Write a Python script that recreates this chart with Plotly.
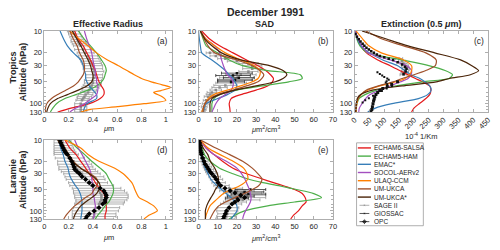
import numpy as np
import plotly.graph_objects as go

# ---------------- data ----------------
P = [10, 13, 16, 20, 25, 30, 35, 40, 45, 50, 57, 65, 75, 85, 100, 115, 130]
MODELS = ["ECHAM6-SALSA", "ECHAM5-HAM", "EMAC*", "SOCOL-AERv2", "ULAQ-CCM", "UM-UKCA", "UM-UKCA*"]
COLORS = ["#e41a1c", "#4daf4a", "#377eb8", "#a34fbf", "#ff7f00", "#a0522d", "#4a2408"]
P_TICKS = [10, 20, 30, 50, 100, 130]

# (a) effective radius, tropics [um]
A_ECHAM6 = [0.25, 0.28, 0.32, 0.35, 0.38, 0.40, 0.42, 0.43, 0.44, 0.45, 0.47, 0.49, 0.49, 0.46, 0.37, 0.22, 0.11]
A_ECHAM5 = [0.28, 0.33, 0.38, 0.43, 0.47, 0.50, 0.51, 0.50, 0.49, 0.47, 0.43, 0.36, 0.26, 0.17, 0.10, 0.07, 0.05]
A_EMAC = [0.13, 0.16, 0.19, 0.24, 0.30, 0.32, 0.33, 0.34, 0.34, 0.35, 0.37, 0.40, 0.43, 0.43, 0.35, 0.33, 0.32]
A_SOCOL = [0.33, 0.35, 0.37, 0.39, 0.40, 0.41, 0.42, 0.42, 0.43, 0.43, 0.44, 0.44, 0.43, 0.39, 0.33, 0.26, 0.21]
A_ULAQ_P = [10, 13, 16, 20, 25, 30, 35, 40, 45, 50, 55, 60, 66, 70, 80, 90, 100, 110, 120, 130]
A_ULAQ = [0.21, 0.29, 0.36, 0.43, 0.52, 0.61, 0.68, 0.74, 0.80, 0.88, 0.97, 1.04, 0.96, 0.90, 0.97, 1.00, 0.82, 0.60, 0.38, 0.30]
A_UKCA = [0.21, 0.24, 0.27, 0.29, 0.32, 0.33, 0.33, 0.32, 0.30, 0.28, 0.24, 0.18, 0.11, 0.06, 0.02, 0.01, 0.01]
A_UKCA2 = [0.23, 0.27, 0.30, 0.33, 0.36, 0.38, 0.39, 0.40, 0.40, 0.39, 0.35, 0.28, 0.19, 0.11, 0.05, 0.03, 0.02]
A_SAGE_P = [10, 11, 12, 13, 14, 15, 16, 18, 20, 22, 24, 26, 28, 30, 33, 36, 40, 44, 48, 52, 56, 60, 65, 70, 75, 80, 85, 90, 100, 110, 120, 130]
A_SAGE = [0.24, 0.25, 0.26, 0.27, 0.28, 0.29, 0.30, 0.32, 0.34, 0.36, 0.37, 0.38, 0.39, 0.40, 0.40, 0.41, 0.41, 0.41, 0.40, 0.40, 0.39, 0.38, 0.37, 0.36, 0.34, 0.33, 0.32, 0.31, 0.30, 0.30, 0.30, 0.30]
A_SAGE_ERR = [0.05, 0.05, 0.05, 0.05, 0.06, 0.06, 0.06, 0.07, 0.07, 0.08, 0.08, 0.08, 0.08, 0.08, 0.08, 0.08, 0.07, 0.07, 0.07, 0.07, 0.07, 0.07, 0.06, 0.06, 0.06, 0.06, 0.05, 0.05, 0.05, 0.05, 0.05, 0.05]

# (b) SAD, tropics [um2/cm3]
B_ECHAM6 = [1.7, 6, 11, 18, 25, 31, 35, 37.5, 39, 38.5, 36, 30, 22, 17, 16, 16.3, 16.5]
B_ECHAM5 = [1, 2.5, 4, 10, 16, 23, 36, 53, 54, 47, 33, 20, 11, 8, 7, 7, 7]
B_EMAC = [0, 0.5, 1, 1.7, 7, 11, 14, 16, 18, 19, 20, 19, 15, 10, 4, 3, 2.5]
B_SOCOL = [1, 4, 8.5, 11, 12, 13, 14, 15, 17, 18, 18, 17, 14, 11, 9, 8, 7]
B_ULAQ = [1, 4, 8.5, 14, 22, 29, 32, 32, 31, 28, 22, 15, 8, 5, 3.4, 2.5, 1.7]
B_UKCA = [1, 3, 5, 8.5, 20, 28, 32, 34, 33, 31, 25, 18, 10, 6, 3.4, 2.5, 2.5]
B_UKCA2 = [1, 3.5, 7, 12, 22, 37, 44, 46, 44, 40, 30, 19, 11, 7, 6, 6, 6]
B_SAGE_P = [20, 22, 24, 26, 28, 30, 33, 36, 40, 44, 48, 52, 56, 60, 65, 70, 75, 80, 90, 100, 110, 120, 130]
B_SAGE = [6, 9, 14, 20, 26, 28, 28, 26, 22, 20, 19, 17, 14, 11, 9, 7, 6, 5, 4, 3.5, 3, 3, 2.5]
B_SAGE_ERR = [2, 3, 4, 5, 5, 5, 5, 5, 8, 9, 9, 8, 6, 4, 3, 2.5, 2, 2, 1.5, 1.5, 1.5, 1, 1]
B_GIO_P = [38, 41, 44, 47, 50]
B_GIO = [20, 18, 21, 19, 17]
B_GIO_ERR = [8, 9, 8, 9, 7]

# (c) extinction 0.5 um, tropics [1e-4 1/km]
C_ECHAM6 = [3, 10, 20, 40, 78, 120, 152, 180, 205, 228, 253, 257, 253, 240, 218, 200, 192]
C_ECHAM5 = [3, 8, 18, 45, 160, 250, 305, 330, 318, 230, 140, 75, 35, 15, 8, 5, 4]
C_EMAC = [3, 10, 22, 50, 95, 145, 170, 190, 220, 237, 253, 258, 246, 215, 126, 70, 44]
C_SOCOL = [3, 12, 25, 45, 120, 175, 192, 190, 180, 155, 120, 85, 52, 37, 25, 16, 14]
C_ULAQ = [5, 28, 48, 90, 165, 192, 192, 185, 170, 140, 85, 45, 22, 12, 8, 6, 5]
C_UKCA = [38, 95, 165, 240, 275, 272, 240, 200, 160, 130, 80, 40, 22, 12, 5, 4, 3]
C_UKCA2 = [25, 110, 180, 270, 357, 395, 418, 390, 320, 275, 160, 60, 20, 9, 6, 5, 4]
C_SAGE_P = [24, 26, 28, 30, 32, 34, 36, 38, 40]
C_SAGE = [150, 160, 165, 170, 172, 172, 170, 168, 165]
C_SAGE_ERR = [12, 12, 12, 12, 12, 12, 12, 12, 12]
C_GIO_P = [11, 12, 13, 14, 15, 16, 17, 18, 19, 20, 21, 22, 23, 24, 25, 27, 29, 31, 33, 36, 39]
C_GIO = [3, 8, 14, 20, 27, 33, 40, 48, 56, 65, 75, 85, 100, 115, 130, 145, 160, 170, 175, 172, 165]
C_GIO_MID_P = [37, 39, 41, 43, 45, 47, 49, 51, 54]
C_GIO_MID = [77, 85, 93, 100, 110, 115, 108, 105, 110]
C_GIO_LOW_P = [50, 54, 58, 62, 66, 70, 75, 80, 86, 92, 100, 110, 120, 130]
C_GIO_LOW = [145, 125, 110, 95, 85, 78, 72, 68, 66, 64, 62, 60, 58, 55]
C_GIO_LOW2_P = [57, 62, 67, 72, 78, 84, 90, 96]
C_GIO_LOW2 = [126, 108, 92, 77, 62, 48, 36, 27]

# (d) effective radius, Laramie [um]
D_ECHAM6 = [0.17, 0.21, 0.26, 0.30, 0.34, 0.37, 0.40, 0.42, 0.44, 0.46, 0.49, 0.50, 0.51, 0.51, 0.51, 0.50, 0.50]
D_ECHAM5 = [0.20, 0.27, 0.33, 0.39, 0.46, 0.51, 0.53, 0.55, 0.565, 0.57, 0.565, 0.55, 0.53, 0.50, 0.47, 0.44, 0.42]
D_EMAC = [0.12, 0.135, 0.155, 0.17, 0.195, 0.205, 0.22, 0.24, 0.26, 0.28, 0.295, 0.305, 0.31, 0.31, 0.31, 0.305, 0.30]
D_SOCOL = [0.25, 0.28, 0.31, 0.34, 0.37, 0.385, 0.39, 0.395, 0.40, 0.40, 0.40, 0.41, 0.415, 0.42, 0.415, 0.41, 0.40]
D_ULAQ = [0.17, 0.30, 0.36, 0.45, 0.58, 0.65, 0.69, 0.72, 0.735, 0.745, 0.76, 0.78, 0.85, 0.90, 0.93, 0.86, 0.82]
D_UKCA = [0.13, 0.17, 0.20, 0.24, 0.30, 0.38, 0.43, 0.44, 0.43, 0.41, 0.39, 0.34, 0.29, 0.25, 0.21, 0.18, 0.16]
D_UKCA2 = [0.11, 0.15, 0.19, 0.23, 0.30, 0.37, 0.42, 0.45, 0.46, 0.45, 0.43, 0.39, 0.34, 0.30, 0.27, 0.25, 0.24]
OBS_P = [10, 11, 12, 13, 14, 15, 16, 18, 20, 22, 24, 26, 28, 30, 33, 36, 40, 44, 48, 52, 56, 60, 65, 70, 75, 80, 90, 100, 110, 120, 130]
D_OPC = [0.13, 0.135, 0.145, 0.155, 0.165, 0.175, 0.19, 0.21, 0.225, 0.235, 0.245, 0.25, 0.27, 0.29, 0.31, 0.34, 0.37, 0.40, 0.46, 0.49, 0.50, 0.51, 0.51, 0.50, 0.50, 0.48, 0.45, 0.41, 0.37, 0.35, 0.34]
D_SAGE = [0.15, 0.15, 0.155, 0.16, 0.165, 0.17, 0.18, 0.21, 0.24, 0.25, 0.26, 0.27, 0.29, 0.31, 0.33, 0.34, 0.36, 0.39, 0.43, 0.45, 0.46, 0.47, 0.47, 0.47, 0.46, 0.45, 0.43, 0.42, 0.41, 0.41, 0.40]
D_SAGE_ERR = [0.07, 0.07, 0.075, 0.08, 0.085, 0.09, 0.10, 0.12, 0.13, 0.14, 0.14, 0.15, 0.15, 0.15, 0.16, 0.16, 0.16, 0.18, 0.20, 0.21, 0.22, 0.22, 0.22, 0.21, 0.20, 0.20, 0.19, 0.19, 0.18, 0.18, 0.17]

# (e) SAD, Laramie [um2/cm3]
E_ECHAM6 = [1, 4, 8, 12.5, 18, 25, 32.5, 39, 45, 50, 54, 55.5, 56, 54, 52, 49.5, 48]
E_ECHAM5 = [1, 2, 3, 6, 11, 18, 25, 33.5, 43, 51, 60, 64, 50, 36, 24, 19, 16]
E_EMAC = [0, 0.5, 1.2, 2.2, 3.5, 5, 6.2, 8, 10, 12, 14.5, 17, 19, 20, 20, 18.5, 17]
E_SOCOL = [1, 4, 8, 14.5, 20, 22.5, 24, 25, 25.8, 26.5, 27, 27.4, 27, 26, 24.5, 23.5, 23]
E_ULAQ = [1, 5, 11, 18, 23.5, 25.3, 25.7, 24, 21, 17, 13, 10.5, 8, 6, 4.8, 4, 3.6]
E_UKCA = [1, 9, 16, 23, 28, 31, 33, 32.5, 31, 28, 24, 19, 14, 10.5, 8.3, 7, 6]
E_UKCA2 = [0.8, 2.5, 4.8, 6.2, 8.5, 9.8, 10.4, 10.4, 10, 8.8, 7.8, 6.5, 5.2, 4.3, 3.6, 3.6, 3.6]
E_OPC = [0.3, 0.5, 0.7, 0.9, 1.0, 1.3, 1.6, 2.2, 2.9, 3.5, 4.5, 5.3, 6.0, 7.0, 8.3, 9.3, 10.2, 11.5, 13.8, 16.5, 19, 22, 24, 20.6, 19, 17.5, 16, 14.6, 14, 13.3, 13]
E_SAGE = [0.5, 0.7, 0.9, 1.1, 1.3, 1.6, 1.9, 2.5, 3.2, 3.9, 4.7, 5.5, 6.3, 7.2, 8.4, 9.4, 10.5, 12, 16, 20, 23, 25, 25, 23, 19, 17, 15.5, 15, 15, 14.5, 14]
E_SAGE_ERR = [0.5, 0.6, 0.7, 0.8, 0.9, 1, 1.2, 1.5, 1.8, 2, 2.2, 2.4, 2.6, 2.8, 3, 3.2, 3.5, 4, 7, 9, 10, 10, 10, 9, 6, 5.5, 5.5, 5.5, 5, 5, 5]
E_GIO_P = [50, 54, 58, 62, 66]
E_GIO = [27, 24, 26, 22, 20]
E_GIO_ERR = [8, 10, 9, 7, 6]

# ---------------- figure ----------------
W, H = 500, 250
def fx(px):
    return px / W
def fy(py):
    return 1 - py / H

FONT = "Arial"
TXT = "#262626"
AXC = "#9a9a9a"
SAGE_C = "#8c8c8c"

fig = go.Figure()

panels = {
    "a": dict(ax="", dom_x=(40, 170), dom_y=(28, 112)),
    "b": dict(ax="2", dom_x=(197, 334), dom_y=(28, 112)),
    "c": dict(ax="3", dom_x=(356, 492), dom_y=(28, 112)),
    "d": dict(ax="4", dom_x=(40, 170), dom_y=(141, 223)),
    "e": dict(ax="5", dom_x=(197, 334), dom_y=(141, 223)),
}

model_data = {
    "a": [A_ECHAM6, A_ECHAM5, A_EMAC, A_SOCOL, A_ULAQ, A_UKCA, A_UKCA2],
    "b": [B_ECHAM6, B_ECHAM5, B_EMAC, B_SOCOL, B_ULAQ, B_UKCA, B_UKCA2],
    "c": [C_ECHAM6, C_ECHAM5, C_EMAC, C_SOCOL, C_ULAQ, C_UKCA, C_UKCA2],
    "d": [D_ECHAM6, D_ECHAM5, D_EMAC, D_SOCOL, D_ULAQ, D_UKCA, D_UKCA2],
    "e": [E_ECHAM6, E_ECHAM5, E_EMAC, E_SOCOL, E_ULAQ, E_UKCA, E_UKCA2],
}

def refs(k):
    a = panels[k]["ax"]
    return "x" + a, "y" + a

def add_sage(k, xs, ps, err):
    xr, yr = refs(k)
    fig.add_trace(go.Scatter(x=xs, y=ps, mode="markers", xaxis=xr, yaxis=yr, showlegend=False,
                             marker=dict(symbol="square", size=2.5, color=SAGE_C),
                             error_x=dict(type="data", array=err, color=SAGE_C, thickness=0.7, width=1.5)))

def add_gio(k, xs, ps, err=None, size=2.5):
    xr, yr = refs(k)
    ex = dict(type="data", array=err, color="#111", thickness=0.7, width=1.5) if err is not None else None
    fig.add_trace(go.Scatter(x=xs, y=ps, mode="markers", xaxis=xr, yaxis=yr, showlegend=False,
                             marker=dict(symbol="square", size=size, color="#111"), error_x=ex))

def add_opc(k, xs, ps):
    xr, yr = refs(k)
    fig.add_trace(go.Scatter(x=xs, y=ps, mode="markers", xaxis=xr, yaxis=yr, showlegend=False,
                             marker=dict(symbol="diamond", size=4, color="#000")))

# observations under model lines
add_sage("a", A_SAGE, A_SAGE_P, A_SAGE_ERR)
add_sage("b", B_SAGE, B_SAGE_P, B_SAGE_ERR)
add_gio("b", B_GIO, B_GIO_P, B_GIO_ERR)
add_sage("c", C_SAGE, C_SAGE_P, C_SAGE_ERR)
add_sage("d", D_SAGE, OBS_P, D_SAGE_ERR)
add_sage("e", E_SAGE, OBS_P, E_SAGE_ERR)
add_gio("e", E_GIO, E_GIO_P, E_GIO_ERR)

for k, series in model_data.items():
    xr, yr = refs(k)
    for name, col, vals in zip(MODELS, COLORS, series):
        pp = A_ULAQ_P if (k == "a" and name == "ULAQ-CCM") else P
        fig.add_trace(go.Scatter(x=vals, y=pp, mode="lines", name=name, xaxis=xr, yaxis=yr, showlegend=False,
                                 line=dict(color=col, width=1.2, shape="spline", smoothing=0.7)))

add_gio("c", C_GIO, C_GIO_P)
add_gio("c", C_GIO_MID, C_GIO_MID_P, size=2)
add_gio("c", C_GIO_LOW, C_GIO_LOW_P, size=3)
add_gio("c", C_GIO_LOW2, C_GIO_LOW2_P, size=2)
add_opc("d", D_OPC, OBS_P)
add_opc("e", E_OPC, OBS_P)

xcfg = {
    "a": dict(range=[0, 1.05], tickvals=[0, 0.2, 0.4, 0.6, 0.8, 1], ticktext=["0", "0.2", "0.4", "0.6", "0.8", "1"]),
    "b": dict(range=[0, 70], tickvals=list(range(0, 71, 10))),
    "c": dict(range=[0, 450], tickvals=list(range(0, 451, 50)), tickangle=-45),
    "d": dict(range=[0, 1.05], tickvals=[0, 0.2, 0.4, 0.6, 0.8, 1], ticktext=["0", "0.2", "0.4", "0.6", "0.8", "1"]),
    "e": dict(range=[0, 70], tickvals=list(range(0, 71, 10))),
}

layout = dict(width=W, height=H, margin=dict(l=0, r=0, t=0, b=0), paper_bgcolor="white", plot_bgcolor="white",
              font=dict(family=FONT, color=TXT), showlegend=False, hovermode=False)

common = dict(showline=True, linecolor=AXC, linewidth=0.8, mirror="ticks", ticks="inside", ticklen=3,
              tickcolor=AXC, tickwidth=0.8, showgrid=False, zeroline=False,
              tickfont=dict(family=FONT, size=7.5, color=TXT))

for k, pdef in panels.items():
    a = pdef["ax"]
    xa = dict(common)
    xa.update(domain=[fx(pdef["dom_x"][0]), fx(pdef["dom_x"][1])], anchor="y" + a)
    xa.update(xcfg[k])
    ya = dict(common)
    ya.update(domain=[fy(pdef["dom_y"][1]), fy(pdef["dom_y"][0])], anchor="x" + a, type="log",
              range=[np.log10(130), 1], tickvals=P_TICKS, ticktext=[str(v) for v in P_TICKS],
              minor=dict(ticks="inside", ticklen=2, tickcolor=AXC, tickvals=[40, 60, 70, 80, 90, 110, 120]))
    layout["xaxis" + a] = xa
    layout["yaxis" + a] = ya

# legend marker overlay axis (markers only)
layout["xaxis6"] = dict(domain=[fx(358), fx(426)], range=[0, 68], visible=False, anchor="y6", fixedrange=True)
layout["yaxis6"] = dict(domain=[fy(230), fy(144)], range=[86, 0], visible=False, anchor="x6", fixedrange=True)

fig.update_layout(**layout)

annotations = []
def ann(text, x, y, size, bold=False, angle=0, xanchor="center", yanchor="middle"):
    t = "<b>" + text + "</b>" if bold else text
    annotations.append(dict(text=t, x=x, y=y, xref="paper", yref="paper", showarrow=False, textangle=angle,
                            font=dict(family=FONT, size=size, color=TXT), xanchor=xanchor, yanchor=yanchor))

ann("December 1991", fx(265), fy(8), 10.5, bold=True)
ann("Effective Radius", fx(105), fy(21), 9, bold=True)
ann("SAD", fx(265), fy(21), 9, bold=True)
ann("Extinction (0.5 <i>μ</i>m)", fx(424), fy(21), 9, bold=True)
ann("Tropics", fx(8), fy(66), 9, bold=True, angle=-90)
ann("Altitude (hPa)", fx(19), fy(70), 9, bold=True, angle=-90)
ann("Laramie", fx(8), fy(178), 9, bold=True, angle=-90)
ann("Altitude (hPa)", fx(19), fy(182), 9, bold=True, angle=-90)
ann("<i>μ</i>m", fx(105), fy(129), 7.5)
ann("<i>μ</i>m<sup>2</sup>/cm<sup>3</sup>", fx(265), fy(130), 7.5)
ann("10<sup>-4</sup> 1/Km", fx(424), fy(137), 7.5)
ann("<i>μ</i>m", fx(105), fy(242), 7.5)
ann("<i>μ</i>m<sup>2</sup>/cm<sup>3</sup>", fx(265), fy(243), 7.5)

for k, pdef in panels.items():
    x0, x1 = pdef["dom_x"]
    y0, y1 = pdef["dom_y"]
    ann("(" + k + ")", fx(x1 - 2), fy(y0 + 3), 8.5, xanchor="right", yanchor="top")

# manual legend (paper coordinates)
LEG_NAMES = MODELS + ["SAGE II", "GIOSSAC", "OPC"]
LEG_COLORS = COLORS + [SAGE_C, "#111", "#000"]
shapes = [dict(type="rect", xref="paper", yref="paper", x0=fx(358), x1=fx(426), y0=fy(230), y1=fy(144),
               line=dict(color=AXC, width=0.8), fillcolor="rgba(0,0,0,0)")]
for i, (nm, col) in enumerate(zip(LEG_NAMES, LEG_COLORS)):
    ypx = 149.3 + 8.5 * i
    if i < 7:
        shapes.append(dict(type="line", xref="paper", yref="paper", x0=fx(359.3), x1=fx(372.7),
                           y0=fy(ypx), y1=fy(ypx), line=dict(color=col, width=1.4)))
    else:
        shapes.append(dict(type="line", xref="paper", yref="paper", x0=fx(361), x1=fx(371),
                           y0=fy(ypx), y1=fy(ypx), line=dict(color=col, width=0.7)))
    annotations.append(dict(text=nm, x=fx(374), y=fy(ypx), xref="paper", yref="paper", showarrow=False,
                            xanchor="left", yanchor="middle", font=dict(family=FONT, size=6.5, color=TXT)))

leg_y_obs = [5.3 + 8.5 * i for i in range(7, 10)]
fig.add_trace(go.Scatter(x=[8, 8, 8], y=leg_y_obs, mode="markers", xaxis="x6", yaxis="y6", showlegend=False,
                         marker=dict(symbol=["square", "square", "diamond"], size=[2.5, 2.5, 4.5],
                                     color=[SAGE_C, "#111", "#000"]), cliponaxis=False))

fig.update_layout(annotations=annotations, shapes=shapes)
fig.write_html("out.html", config={"displayModeBar": False, "staticPlot": True},
               post_script="document.body.style.margin='0px';document.body.style.overflow='hidden';")
